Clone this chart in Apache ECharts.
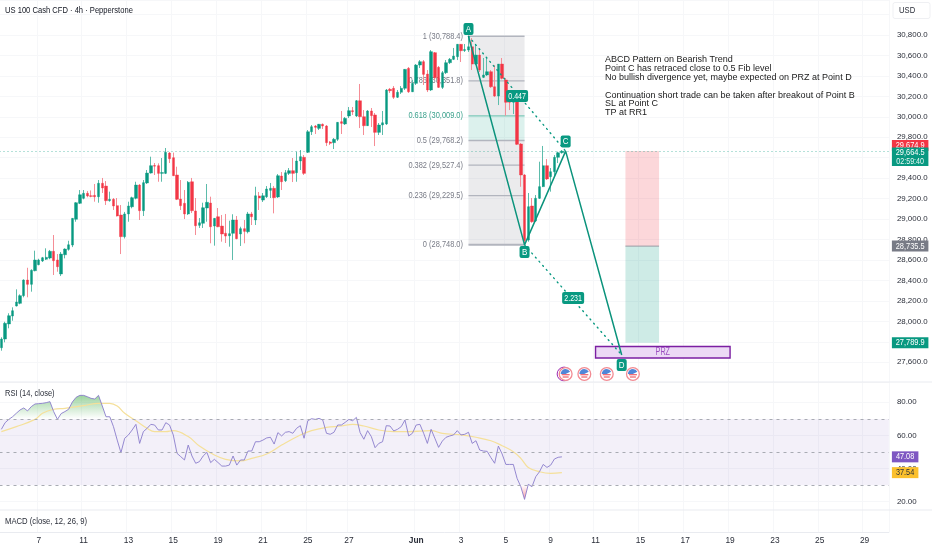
<!DOCTYPE html>
<html><head><meta charset="utf-8">
<style>html,body{margin:0;padding:0;background:#fff}#c{width:932px;height:550px}</style>
<script src="https://cdn.jsdelivr.net/npm/echarts@6/dist/echarts.min.js"></script>
</head><body><div id="c"></div>
<script>
const tickBars=[10,22,34,46,58,70,82,93,111,123,135,147,159,171,183,195,207,219,231];
const tickLabels=['7','11','13','15','19','21','25','27','Jun','3','5','9','11','15','17','19','23','25','29'];
const opens=[27742,27827,27974,28052,28150,28176,28251,28404,28362,28495,28554,28590,28607,28619,28685,28600,28463,28651,28704,28746,28998,29154,29203,29252,29228,29232,29218,29350,29323,29180,29193,29131,29040,28828,29050,29120,29203,29333,29082,29353,29450,29524,29522,29447,29447,29646,29600,29431,29196,29154,29050,29365,29079,28939,28959,29108,29157,28932,29023,28932,28861,28837,28861,28991,28854,28906,28876,29050,28991,29226,29186,29218,29281,29301,29216,29421,29375,29447,29473,29453,29568,29604,29653,29854,29910,29887,29927,29910,29754,29747,29780,29952,29930,30008,30060,30008,30157,30001,29913,30057,30018,29848,29920,29930,30269,30279,30191,30240,30279,30474,30245,30327,30506,30539,30418,30262,30627,30484,30288,30431,30529,30562,30588,30709,30648,30653,30685,30516,30604,30386,30409,30441,30294,30203,30516,30360,30164,30142,30148,29734,29431,28795,29128,28981,29203,29317,29522,29414,29463,29604,29649];
const closes=[27827,27981,28055,28104,28189,28251,28404,28362,28499,28600,28600,28622,28626,28685,28593,28534,28658,28707,28749,29007,29160,29238,29252,29226,29222,29218,29350,29304,29180,29193,29128,29030,28828,29050,29128,29209,29333,29082,29356,29450,29522,29517,29447,29455,29653,29590,29424,29193,29131,29050,29360,29082,28935,28964,29111,29164,28925,29007,28925,28854,28834,28857,28991,28808,28906,28880,29050,29023,29228,29206,29228,29294,29301,29209,29424,29365,29453,29473,29447,29568,29610,29447,29854,29903,29897,29927,29910,29747,29741,29780,29946,29936,29985,30060,30050,30157,30001,29913,30057,30011,29848,29920,29942,30262,30255,30191,30240,30279,30464,30245,30327,30506,30539,30415,30262,30637,30382,30288,30431,30529,30562,30594,30709,30646,30658,30685,30516,30604,30458,30409,30441,30294,30203,30516,30376,30142,30142,30154,29731,29431,28790,29121,28974,29203,29317,29522,29392,29463,29604,29649,29664.5];
const lows=[27713,27795,27932,28006,28145,28167,28235,28235,28290,28489,28548,28580,28600,28607,28453,28485,28443,28616,28691,28726,28974,29147,29193,29213,29213,29170,29160,29255,29138,29170,29089,29025,28658,28810,28974,29105,29193,28991,29030,29343,29445,29431,29365,29365,29440,29548,29420,29186,29089,29000,29040,29059,28844,28913,28913,28974,28763,28740,28920,28779,28766,28730,28600,28802,28737,28763,28860,28942,28942,29089,29167,29206,29206,29056,29206,29284,29362,29431,29362,29365,29480,29431,29646,29822,29832,29871,29881,29714,29724,29685,29763,29832,29920,29988,30018,29998,29890,29822,29910,29900,29714,29822,29822,29920,30233,30174,30184,30223,30262,30233,30242,30311,30477,30311,30242,30252,30360,30282,30272,30418,30516,30555,30555,30536,30634,30634,30458,30506,30438,30379,30399,30282,30193,30115,30366,30011,30066,30027,29724,29316,28748,28778,28964,28971,29196,29313,29382,29268,29414,29548,29640];
const highs=[27844,27996,28079,28137,28313,28264,28411,28524,28509,28691,28612,28630,28714,28698,28844,28658,28678,28714,28788,29010,29165,29284,29284,29274,29280,29343,29382,29402,29372,29268,29206,29206,29137,29070,29170,29219,29365,29343,29382,29480,29610,29548,29545,29597,29695,29656,29650,29512,29382,29284,29372,29402,29206,29010,29160,29343,29219,29010,29108,29040,29050,28984,29047,29030,28925,28991,29070,29070,29316,29265,29255,29323,29353,29323,29440,29460,29480,29499,29597,29659,29675,29626,29871,29920,29920,29930,29935,29920,29763,29793,29949,30057,29998,30096,30096,30164,30321,30066,30066,30086,30037,29939,30057,30272,30282,30301,30262,30301,30467,30487,30360,30516,30555,30555,30457,30653,30634,30497,30448,30555,30575,30673,30712,30712,30712,30788,30770,30702,30673,30575,30575,30457,30506,30516,30575,30379,30213,30164,30154,29744,29440,29255,29206,29235,29561,29715,29587,29499,29626,29659,29675];
const rsiValues=[63.7,67.7,69.7,71.3,73.4,75.4,76.6,74.8,77.4,79.0,79.2,79.4,79.8,80.4,74.4,69.7,73.2,74.4,75.8,80.2,83.0,84.2,84.2,83.4,82.4,82.0,84.2,77.8,71.3,71.3,65.3,57.2,49.6,58.3,60.3,63.3,66.7,55.2,62.3,64.3,66.7,66.3,63.3,63.3,67.7,66.3,60.3,49.2,47.2,45.2,54.2,47.6,43.2,44.2,47.6,49.8,43.6,45.6,43.6,41.5,41.5,42.1,47.6,42.1,45.2,45.2,50.6,50.6,56.2,56.2,57.2,58.5,58.9,54.8,61.7,59.7,61.9,62.3,61.3,64.3,65.9,58.3,68.9,70.1,69.7,70.3,69.3,61.3,60.7,61.9,66.3,66.3,67.9,69.7,68.9,70.9,61.7,57.7,62.9,59.3,52.6,55.2,56.2,65.9,65.7,62.7,63.7,65.3,69.3,59.7,61.3,66.3,66.7,61.3,55.2,63.7,58.3,52.8,56.6,58.9,59.7,60.3,62.9,60.3,60.7,61.9,55.2,56.8,51.2,50.6,50.4,46.6,43.2,53.6,48.8,42.5,42.5,42.5,34.1,29.1,21.4,30.5,29.1,35.1,38.1,42.5,40.7,42.1,45.8,46.8,47.08];
const rsiMaBars=[0,4,9,11,14,17,22,26,29,31,33,36,39,41,44,46,50,53,57,60,64,67,71,75,80,83,87,91,94,97,101,105,109,115,118,123,127,131,134,137,139,141,144,147,150];
const rsiMaValues=[62.3,65.3,69.7,73.4,75.8,76.4,78,79.4,79.4,77.8,73.4,68.9,64.3,62.3,62.3,62.9,59.3,53.6,48.2,45.6,44.6,46.2,48.8,54.2,60.3,62.9,64.9,65.7,66.7,65.7,63.3,62.3,62.3,62.9,61.3,60.3,58.9,56.8,53.8,50.2,46.2,40.7,38.1,37.1,37.54];
const fibRatios=['1','0.786','0.618','0.5','0.382','0.236','0'];
const fibPrices=[30788.4,30351.8,30009.0,29768.2,29527.4,29229.5,28748.0];
const fibBars=[125,140];
const patternBars=[125,140,151,166];
const patternPrices=[30788.4,28748,29664.5,27671];
const markerTexts=['A','B','C','D','0.447','2.231'];
const markerBars=[125,140,151,166,138,153];
const markerPrices=[30858,28678,29758,27573,30203,28228];
const positionBars=[167,176];
const positionPrices=[29664.5,28735.5,27789.9];
const przBars=[159,195];
const przPrices=[27754,27641];
const przLabel='PRZ';
const eventBars=[150.6,156,162,169];
const eventPrice=27485;
const priceTagTexts=['29,674.9','29,664.5','28,735.5','27,789.9'];
const priceTagValues=[29674.9,29664.5,28735.5,27789.9];
const countdown='02:59:40';
const rsiTagValues=[47.08,37.54];
const note='ABCD Pattern on Bearish Trend\nPoint C has retraced close to 0.5 Fib level\nNo bullish divergence yet, maybe expected on PRZ at Point D\n\nContinuation short trade can be taken after breakout of Point B\nSL at Point C\nTP at RR1';

const UP='#089981',DOWN='#f23645',FONT='"Liberation Sans",Arial,sans-serif',TXT='#2a2e39',GRID='#f6f7f9';
const N=238;
const cats=Array.from({length:N},(_,i)=>{const k=tickBars.indexOf(i);return k>=0?tickLabels[k]:'';});
const isTick=i=>tickBars.indexOf(i)>=0;
const L=-0.5,W=889.4;
const chart=echarts.init(document.getElementById('c'),null,{renderer:'canvas'});
const hiddenX=g=>({type:'category',gridIndex:g,data:cats,boundaryGap:true,axisLine:{show:false},axisTick:{show:false},axisLabel:{show:false},splitLine:{show:false}});
const T=(x,y,text,align,fill,px,sx)=>({type:'text',x:x,y:y,scaleX:sx,scaleY:1,style:{x:0,y:0,text:text,align:align,verticalAlign:'middle',fill:fill,font:px+'px '+FONT}});

function fibItem(params,api){
  const i=params.dataIndex,x0=api.coord([fibBars[0],0])[0],x1=api.coord([fibBars[1],0])[0];
  const y=api.coord([0,fibPrices[i]])[1];
  const ch=[];
  if(i<fibPrices.length-1){
    const y2=api.coord([0,fibPrices[i+1]])[1];
    ch.push({type:'rect',shape:{x:x0,y:y,width:x1-x0,height:y2-y},style:{fill:i===2?'rgba(8,153,129,0.14)':'rgba(120,123,134,0.15)'}});
  }
  const teal=i===2;
  ch.push({type:'line',shape:{x1:x0,y1:y,x2:x1,y2:y},style:{stroke:teal?'#7cc9b9':'#b2b5be',lineWidth:i===6?2:1.4}});
  const txt=fibRatios[i]+' ('+fibPrices[i].toLocaleString('en-US',{minimumFractionDigits:1,maximumFractionDigits:1})+')';
  ch.push(T(x0-5.5,y,txt,'right',teal?'#3aa18c':'#787b86',9.2,0.81));
  return {type:'group',children:ch};
}
function markerItem(params,api){
  const i=params.dataIndex,p=api.coord([markerBars[i],markerPrices[i]]);
  const t=markerTexts[i],w=t.length>1?22:10,h=12;
  return {type:'group',children:[
    {type:'rect',shape:{x:p[0]-w/2,y:p[1]-h/2,width:w,height:h,r:2},style:{fill:UP}},
    T(p[0],p[1],t,'center','#fff',9.4,t.length>1?0.75:0.85)
  ]};
}
function positionItem(params,api){
  const x0=api.coord([positionBars[0],0])[0],x1=api.coord([positionBars[1],0])[0];
  const y=positionPrices.map(v=>api.coord([0,v])[1]);
  return {type:'group',children:[
    {type:'rect',shape:{x:x0,y:y[0],width:x1-x0,height:y[1]-y[0]},style:{fill:'rgba(242,54,69,0.2)'}},
    {type:'rect',shape:{x:x0,y:y[1],width:x1-x0,height:y[2]-y[1]},style:{fill:'rgba(8,153,129,0.2)'}},
    {type:'line',shape:{x1:x0,y1:y[1],x2:x1,y2:y[1]},style:{stroke:'#9a9ca4',lineWidth:1}}
  ]};
}
function przItem(params,api){
  const a=api.coord([przBars[0],przPrices[0]]),b=api.coord([przBars[1],przPrices[1]]);
  return {type:'group',children:[
    {type:'rect',shape:{x:a[0],y:a[1],width:b[0]-a[0],height:b[1]-a[1]},style:{fill:'#ecd9f5',stroke:'#7b1fa2',lineWidth:1.4}},
    T((a[0]+b[0])/2,(a[1]+b[1])/2,przLabel,'center','#9c4fc0',10,0.72)
  ]};
}
function eventItem(params,api){
  const p=api.coord([eventBars[params.dataIndex],eventPrice]),x=p[0],y=p[1],r=6.4;
  const ch=[];
  if(params.dataIndex===0) ch.push({type:'circle',shape:{cx:x-1.6,cy:y,r:r+0.5},style:{fill:'none',stroke:'#9c27b0',lineWidth:1}});
  ch.push({type:'circle',shape:{cx:x,cy:y,r:r},style:{fill:'#fff',stroke:'#f28b93',lineWidth:1.3}});
  ch.push({type:'sector',shape:{cx:x,cy:y,r:r-1.4,r0:0,startAngle:Math.PI*1.0,endAngle:Math.PI*1.85},style:{fill:'#4f86d8'}});
  ch.push({type:'rect',shape:{x:x-4,y:y+0.1,width:8,height:1.2},style:{fill:'#ef5d68'}});
  ch.push({type:'rect',shape:{x:x-3,y:y+2.4,width:6,height:1.2},style:{fill:'#ef5d68'}});
  return {type:'group',children:ch};
}
function priceTagItem(params,api){
  const i=params.dataIndex,y=api.coord([0,priceTagValues[i]])[1],x=params.coordSys.x+params.coordSys.width+3,w=36.5;
  const colors=[DOWN,UP,'#787b86',UP],ch=[];
  if(i===1){
    ch.push({type:'rect',shape:{x:x,y:y-3.5,width:w,height:18.5},style:{fill:colors[i]}});
    ch.push(T(x+w/2,y+1,priceTagTexts[i],'center','#fff',9.4,0.79));
    ch.push(T(x+w/2,y+10.2,countdown,'center','#e6f6f3',9,0.79));
  }else{
    const c=i===0?y-4.5:y;
    ch.push({type:'rect',shape:{x:x,y:c-5.5,width:w,height:11},style:{fill:colors[i]}});
    ch.push(T(x+w/2,c,priceTagTexts[i],'center','#fff',9.4,0.79));
  }
  return {type:'group',children:ch};
}
function rsiTagItem(params,api){
  const i=params.dataIndex,y=api.coord([0,rsiTagValues[i]])[1],x=params.coordSys.x+params.coordSys.width+3;
  return {type:'group',children:[
    {type:'rect',shape:{x:x,y:y-5.5,width:26.5,height:11},style:{fill:i===0?'#7e57c2':'#fbc02d'}},
    T(x+13.2,y,rsiTagValues[i].toFixed(2),'center',i===0?'#fff':'#2a2e39',9.4,0.78)
  ]};
}
const custom=(name,data,fn,z,xi,yi)=>({type:'custom',name,xAxisIndex:xi||0,yAxisIndex:yi||0,data,renderItem:fn,z,silent:true,animation:false,encode:{x:0,y:1}});
const G=(x,y,text,px,sx,fill)=>({type:'text',z:11,silent:true,x:x,y:y,scaleX:sx,style:{text:text,verticalAlign:'middle',fill:fill,font:px+'px '+FONT}});

chart.setOption({
  animation:false,backgroundColor:'#fff',
  grid:[
    {left:L,top:0,width:W,height:382.7,outerBoundsMode:'none'},
    {left:L,top:382,width:W,height:119.7,outerBoundsMode:'none'},
    {left:L,top:0,width:W,height:532,outerBoundsMode:'none'}
  ],
  xAxis:[hiddenX(0),hiddenX(1),{
    type:'category',gridIndex:2,data:cats,boundaryGap:true,
    axisLine:{show:true,lineStyle:{color:'#e9ebf0',width:1}},axisTick:{show:false},
    axisLabel:{show:true,interval:(i)=>isTick(i),hideOverlap:false,color:TXT,fontFamily:FONT,fontSize:8.4,margin:4.5,
      formatter:(v)=>v==='Jun'?'{b|Jun}':v,rich:{b:{fontWeight:'bold',color:TXT,fontFamily:FONT,fontSize:8.4}}},
    splitLine:{show:true,interval:(i)=>isTick(i),lineStyle:{color:GRID,width:1}}
  }],
  yAxis:[
    {type:'value',gridIndex:0,position:'right',min:27400,max:31142.2,interval:200,axisLine:{show:false},axisTick:{show:false},
     splitLine:{show:true,lineStyle:{color:GRID,width:1}},
     axisLabel:{margin:8,color:TXT,fontFamily:FONT,fontSize:7.9,showMaxLabel:false,
       formatter:v=>(v>30800||v<27600)?'':v.toLocaleString('en-US',{minimumFractionDigits:1,maximumFractionDigits:1})}},
    {type:'value',gridIndex:1,position:'right',min:20,max:92.27,interval:20,axisLine:{show:false},axisTick:{show:false},
     splitLine:{show:true,lineStyle:{color:GRID,width:1}},
     axisLabel:{margin:8,color:TXT,fontFamily:FONT,fontSize:7.9,showMaxLabel:false,formatter:v=>v>80?'':v.toFixed(2)}},
    {type:'value',gridIndex:2,show:false,min:0,max:1}
  ],
  series:[
    custom('fib',fibPrices,fibItem,1),
    custom('position',[0],positionItem,1),
    {type:'candlestick',name:'wicks',xAxisIndex:0,yAxisIndex:0,z:3,barWidth:1,silent:true,
     data:opens.map((o,i)=>[o,closes[i],lows[i],highs[i]]),
     itemStyle:{color:'#5dbcab',color0:'#f58d96',borderColor:'#5dbcab',borderColor0:'#f58d96',borderWidth:1,borderColorDoji:'#5dbcab'},
     markLine:{silent:true,symbol:'none',label:{show:false},lineStyle:{color:UP,type:[1,3],width:1,opacity:0.6},data:[{yAxis:closes[closes.length-1]}],animation:false}},
    {type:'candlestick',name:'US100',xAxisIndex:0,yAxisIndex:0,z:3,barWidth:2.9,silent:true,
     data:opens.map((o,i)=>[o,closes[i],Math.min(o,closes[i]),Math.max(o,closes[i])]),
     itemStyle:{color:UP,color0:DOWN,borderColor:UP,borderColor0:DOWN,borderWidth:0.4,borderColorDoji:UP}},
    {type:'line',name:'AC',xAxisIndex:0,yAxisIndex:0,z:4,showSymbol:false,silent:true,data:[[patternBars[0],patternPrices[0]],[patternBars[2],patternPrices[2]]],lineStyle:{color:UP,type:[1,4.5],width:1.4,cap:'round'}},
    {type:'line',name:'BD',xAxisIndex:0,yAxisIndex:0,z:4,showSymbol:false,silent:true,data:[[patternBars[1],patternPrices[1]],[patternBars[3],patternPrices[3]]],lineStyle:{color:UP,type:[1,4.5],width:1.4,cap:'round'}},
    custom('prz',[0],przItem,4),
    {type:'line',name:'ABCD',xAxisIndex:0,yAxisIndex:0,z:5,showSymbol:false,silent:true,data:patternBars.map((b,i)=>[b,patternPrices[i]]),lineStyle:{color:'#0b937c',width:1.5}},
    custom('markers',markerTexts,markerItem,6),
    custom('events',eventBars,eventItem,6),
    custom('tags',priceTagValues,priceTagItem,8),
    {type:'line',name:'RSI high',xAxisIndex:1,yAxisIndex:1,z:2,showSymbol:false,silent:true,data:rsiValues.map(v=>Math.max(v,70)),lineStyle:{opacity:0},
     areaStyle:{origin:70,opacity:1,color:new echarts.graphic.LinearGradient(0,0,0,1,[{offset:0,color:'rgba(76,175,80,0.55)'},{offset:1,color:'rgba(76,175,80,0)'}])}},
    {type:'line',name:'RSI low',xAxisIndex:1,yAxisIndex:1,z:2,showSymbol:false,silent:true,data:rsiValues.map(v=>Math.min(v,30)),lineStyle:{opacity:0},
     areaStyle:{origin:30,opacity:1,color:new echarts.graphic.LinearGradient(0,1,0,0,[{offset:0,color:'rgba(242,54,69,0.5)'},{offset:1,color:'rgba(242,54,69,0)'}])}},
    {type:'line',name:'RSI MA',xAxisIndex:1,yAxisIndex:1,z:3,showSymbol:false,silent:true,smooth:0.4,data:rsiMaBars.map((b,i)=>[b,rsiMaValues[i]]),lineStyle:{color:'#f5e09a',width:1.2}},
    {type:'line',name:'RSI',xAxisIndex:1,yAxisIndex:1,z:4,showSymbol:false,silent:true,data:rsiValues,lineStyle:{color:'#8a7dcc',width:0.9},
     markArea:{silent:true,itemStyle:{color:'rgba(126,87,194,0.09)'},data:[[{yAxis:30},{yAxis:70}]]},
     markLine:{silent:true,symbol:'none',label:{show:false},lineStyle:{color:'#a8abb3',type:[3,4],width:1},data:[{yAxis:70},{yAxis:50},{yAxis:30}]}},
    custom('rsiTags',rsiTagValues,rsiTagItem,8,1,1)
  ],
  graphic:[
    {type:'line',z:10,silent:true,shape:{x1:0,y1:382,x2:932,y2:382},style:{stroke:'#e9ebf0',lineWidth:1}},
    {type:'line',z:10,silent:true,shape:{x1:0,y1:510,x2:932,y2:510},style:{stroke:'#e9ebf0',lineWidth:1}},
    {type:'rect',z:10,silent:true,shape:{x:893,y:2.5,width:37,height:16,r:2},style:{fill:'#fff',stroke:'#eff0f3'}},
    G(899,11,'USD',9,0.85,TXT),
    G(5,10.5,'US 100 Cash CFD · 4h · Pepperstone',9.4,0.81,'#131722'),
    G(5,393,'RSI (14, close)',9.4,0.8,TXT),
    G(5,521.7,'MACD (close, 12, 26, 9)',9.4,0.82,TXT),
    {type:'text',z:11,silent:true,style:{x:605,y:55,text:note,fill:'#1a1a1a',font:'9px '+FONT,lineHeight:8.9}}
  ]
});
</script></body></html>
